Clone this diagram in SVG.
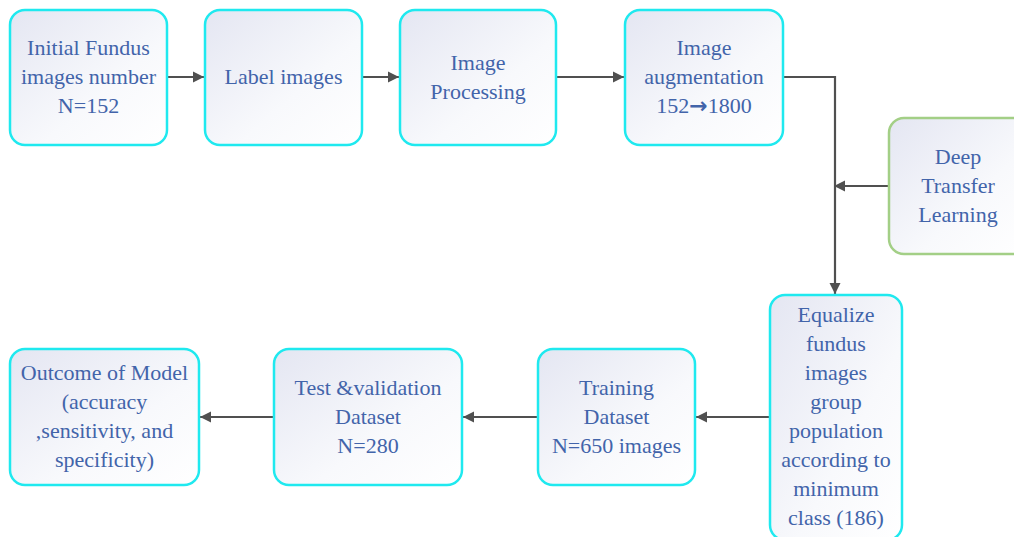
<svg xmlns="http://www.w3.org/2000/svg" width="1014" height="537" viewBox="0 0 1014 537">
<style>
.box{fill:url(#g);stroke:#1fe9ef;stroke-width:2.5}
.green{stroke:#a3cf86}
text{font-family:'Liberation Serif','Times New Roman',serif;font-size:22px;fill:#4264aa;text-anchor:middle}
.ar{font-family:'DejaVu Sans',sans-serif;font-size:22px;font-weight:bold}
.c{fill:none;stroke:#505050;stroke-width:2.2}
</style>
<defs>
<linearGradient id="g" x1="0" y1="0" x2="1" y2="1">
<stop offset="0" stop-color="#e4e6f2"/>
<stop offset="0.6" stop-color="#f8f9fc"/>
<stop offset="1" stop-color="#ffffff"/>
</linearGradient>
<marker id="a" viewBox="0 0 10 10" refX="10" refY="5" markerWidth="5" markerHeight="5.4" orient="auto" markerUnits="strokeWidth">
<path d="M0,0 L10,5 L0,10 z" fill="#505050"/>
</marker>
</defs>
<g id="connectors">
<path class="c" d="M167,77 H204" marker-end="url(#a)"/>
<path class="c" d="M362,77 H399" marker-end="url(#a)"/>
<path class="c" d="M556,77 H624" marker-end="url(#a)"/>
<path class="c" d="M783,77 H835 V294" marker-end="url(#a)"/>
<path class="c" d="M889,186 H834" marker-end="url(#a)"/>
<path class="c" d="M770,417 H696" marker-end="url(#a)"/>
<path class="c" d="M538,417 H463" marker-end="url(#a)"/>
<path class="c" d="M274,417 H200" marker-end="url(#a)"/>
</g>
<g id="n1"><rect class="box" x="10" y="10" width="157" height="135" rx="15"/>
<text x="88.5" y="55">Initial Fundus</text><text x="88.5" y="84">images number</text><text x="88.5" y="113">N=152</text></g>
<g id="n2"><rect class="box" x="205" y="10" width="157" height="135" rx="15"/>
<text x="283.5" y="84">Label images</text></g>
<g id="n3"><rect class="box" x="400" y="10" width="156" height="135" rx="15"/>
<text x="478" y="70">Image</text><text x="478" y="99">Processing</text></g>
<g id="n4"><rect class="box" x="625" y="10" width="158" height="135" rx="15"/>
<text x="704" y="55">Image</text><text x="704" y="84">augmentation</text><text x="704" y="113">152<tspan class="ar">→</tspan>1800</text></g>
<g id="n5"><rect class="box green" x="889" y="118" width="140" height="136" rx="15"/>
<text x="958" y="164">Deep</text><text x="958" y="193">Transfer</text><text x="958" y="222">Learning</text></g>
<g id="n6"><rect class="box" x="770" y="295" width="132" height="245" rx="15"/>
<text x="836" y="322">Equalize</text><text x="836" y="351">fundus</text><text x="836" y="380">images</text><text x="836" y="409">group</text><text x="836" y="438">population</text><text x="836" y="467">according to</text><text x="836" y="496">minimum</text><text x="836" y="525">class (186)</text></g>
<g id="n7"><rect class="box" x="538" y="349" width="157" height="136" rx="15"/>
<text x="616.5" y="395">Training</text><text x="616.5" y="424">Dataset</text><text x="616.5" y="453">N=650 images</text></g>
<g id="n8"><rect class="box" x="274" y="349" width="188" height="136" rx="15"/>
<text x="368" y="395">Test &amp;validation</text><text x="368" y="424">Dataset</text><text x="368" y="453">N=280</text></g>
<g id="n9"><rect class="box" x="10" y="349" width="189" height="136" rx="15"/>
<text x="104.5" y="380">Outcome of Model</text><text x="104.5" y="409">(accuracy</text><text x="104.5" y="438">,sensitivity, and</text><text x="104.5" y="467">specificity)</text></g>
</svg>
